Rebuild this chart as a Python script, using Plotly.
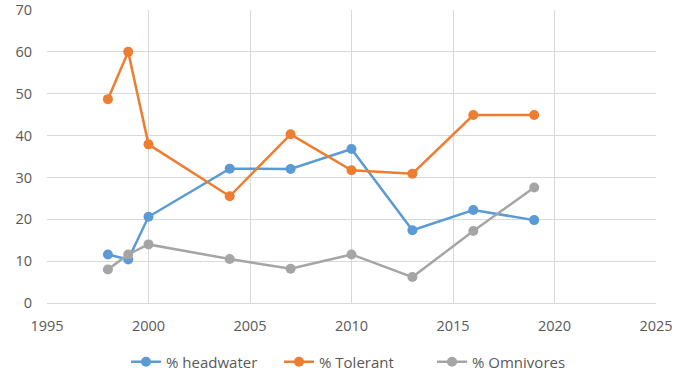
import plotly.graph_objects as go

years = [1998, 1999, 2000, 2004, 2007, 2010, 2013, 2016, 2019]
headwater = [11.6, 10.4, 20.6, 32.1, 32.0, 36.8, 17.4, 22.2, 19.8]
tolerant = [48.7, 60.0, 37.9, 25.5, 40.3, 31.7, 30.9, 44.9, 44.9]
omnivores = [8.0, 11.6, 14.0, 10.5, 8.2, 11.6, 6.2, 17.2, 27.6]

series = [
    ("% headwater", headwater, "#5B9BD5"),
    ("% Tolerant", tolerant, "#ED7D31"),
    ("% Omnivores", omnivores, "#A5A5A5"),
]

fig = go.Figure()
for name, vals, col in series:
    fig.add_trace(go.Scatter(
        x=years, y=vals, name=name, mode="lines+markers",
        line=dict(color=col, width=2.5),
        marker=dict(color=col, size=10, symbol="circle"),
    ))

fig.update_layout(
    width=689, height=377,
    margin=dict(l=47, r=33, t=10, b=74, autoexpand=False),
    paper_bgcolor="white", plot_bgcolor="white",
    font=dict(family="Open Sans, Liberation Sans, sans-serif", size=14.5, color="#595959"),
    showlegend=True,
    legend=dict(orientation="h", x=0.516, xanchor="center", xref="container",
                y=0.04, yanchor="middle", yref="container",
                font=dict(size=15, color="#595959"), itemwidth=30,
                entrywidth=108, entrywidthmode="pixels"),
)
fig.update_xaxes(range=[1995, 2025], dtick=5, tick0=1995, showgrid=True,
                 gridcolor="#D9D9D9", gridwidth=1, zeroline=False,
                 showline=True, linecolor="#D9D9D9", linewidth=1,
                 ticks="", automargin=False, ticklabelstandoff=10,
                 tickfont=dict(size=14.5, color="#595959"))
fig.update_yaxes(range=[0, 70], dtick=10, showgrid=True,
                 gridcolor="#D9D9D9", gridwidth=1, zeroline=False,
                 showline=False, ticks="", automargin=False, ticklabelstandoff=14,
                 tickfont=dict(size=14.5, color="#595959"))

fig.write_html("out.html", config={"displayModeBar": False},
               post_script="document.body.style.margin='0';document.body.style.overflow='hidden';")
